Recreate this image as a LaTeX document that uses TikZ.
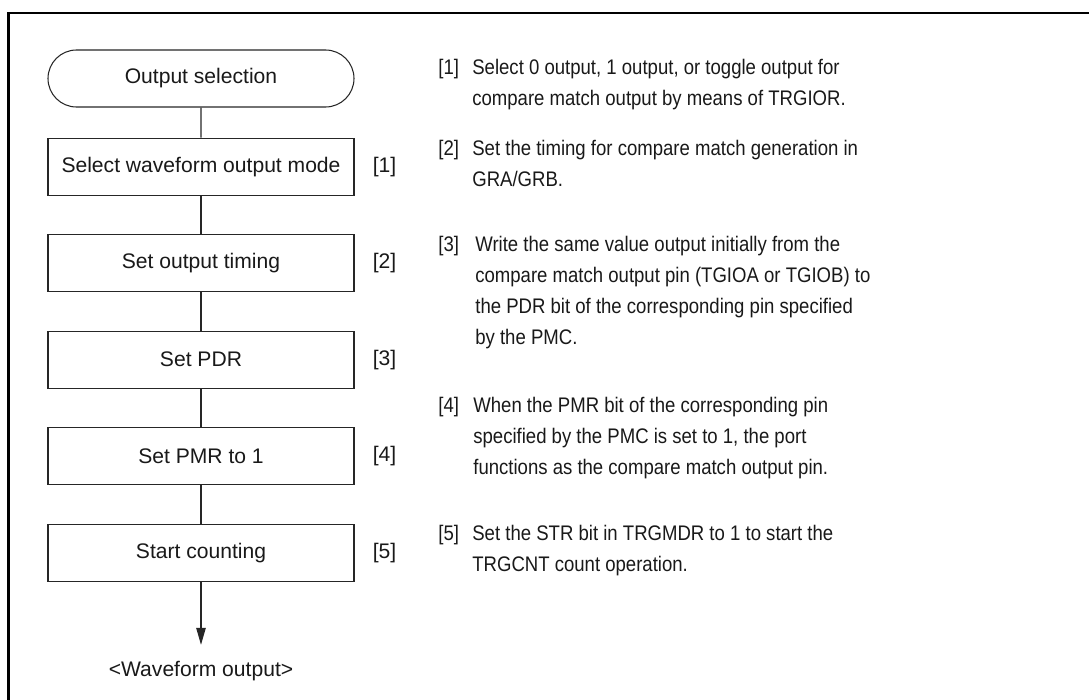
\documentclass[tikz,border=0pt]{standalone}
\usepackage{fontspec}
\setmainfont{Liberation Sans}
\newfontfamily\notefont[FakeStretch=0.88]{Liberation Sans}
\usepackage{tikz}
\usetikzlibrary{arrows.meta,positioning,shapes.misc}
\tikzset{
  flow/term/.style={draw=black!85, rounded rectangle, line width=0.6pt, minimum width=61.2mm, minimum height=11.4mm, inner sep=0pt, align=center},
  flow/proc/.style={draw=black!85, line width=0.6pt, minimum width=61.2mm, minimum height=11.4mm, inner sep=0pt, align=center},
  flow/num/.style={inner sep=0pt, font=\fontsize{12}{14}\selectfont},
  flow/line/.style={draw=black!85, line width=0.6pt},
  flow/arr/.style={flow/line, -{Triangle[length=3.4mm,width=1.9mm]}},
  flow/out/.style={inner sep=0pt},
  note/num/.style={inner sep=0pt, anchor=base west, font=\notefont\fontsize{12}{17.6}\selectfont},
  note/text/.style={inner sep=0pt, anchor=north west, align=left, font=\notefont\fontsize{12}{17.6}\selectfont},
  frame/.style={line width=1.3pt}
}

\begin{document}
\begin{tikzpicture}[font=\fontsize{12}{14}\selectfont, text=black!90, node distance=7.7mm]
  \useasboundingbox (0,0) rectangle (217.8mm,-140mm);
  % outer frame (only top and left edge show)
  \draw[frame] (1.7mm,-140mm) -- (1.7mm,-2.6mm) -- (217.8mm,-2.6mm);

  % flow chart
  \node[flow/term] (sel) at (40.2mm,-15.7mm) {Output selection};
  \node[flow/proc, below=6mm of sel] (mode) {Select waveform output mode};
  \node[flow/proc, below=of mode] (timing) {Set output timing};
  \node[flow/proc, below=of timing] (pdr) {Set PDR};
  \node[flow/proc, below=of pdr] (pmr) {Set PMR to 1};
  \node[flow/proc, below=of pmr] (start) {Start counting};
  \coordinate[below=12.6mm of start] (end);
  \node[flow/out, below=3.3mm of end] (wave) {<Waveform output>};

  \foreach \n [count=\i] in {mode,timing,pdr,pmr,start}
    \node[flow/num, right=3.6mm of \n] (\n-no) {[\i]};

  \draw[flow/line] (sel) -- (mode);
  \draw[flow/line] (mode) -- (timing);
  \draw[flow/line] (timing) -- (pdr);
  \draw[flow/line] (pdr) -- (pmr);
  \draw[flow/line] (pmr) -- (start);
  \draw[flow/arr] (start) -- (end);

  % notes
  \node[note/num] (n1) at (87.6mm,-14.9mm) {[1]};
  \node[note/text] (d1) at (94.4mm,-11.8mm) {Select 0 output, 1 output, or toggle output for\\compare match output by means of TRGIOR.};
  \node[note/num] (n2) at (87.6mm,-31.1mm) {[2]};
  \node[note/text] (d2) at (94.4mm,-28.0mm) {Set the timing for compare match generation in\\GRA/GRB.};
  \node[note/num] (n3) at (87.6mm,-50.3mm) {[3]};
  \node[note/text] (d3) at (95mm,-47.2mm) {Write the same value output initially from the\\compare match output pin (TGIOA or TGIOB) to\\the PDR bit of the corresponding pin specified\\by the PMC.};
  \node[note/num] (n4) at (87.6mm,-82.5mm) {[4]};
  \node[note/text] (d4) at (94.6mm,-79.4mm) {When the PMR bit of the corresponding pin\\specified by the PMC is set to 1, the port\\functions as the compare match output pin.};
  \node[note/num] (n5) at (87.6mm,-108.1mm) {[5]};
  \node[note/text] (d5) at (94.4mm,-105.0mm) {Set the STR bit in TRGMDR to 1 to start the\\TRGCNT count operation.};
\end{tikzpicture}
\end{document}
